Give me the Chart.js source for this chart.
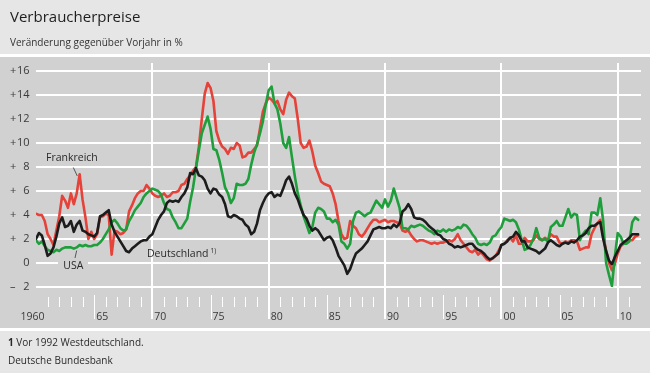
<!DOCTYPE html>
<html>
<head>
<meta charset="utf-8">
<script src="https://cdn.jsdelivr.net/npm/chart.js@4/dist/chart.umd.min.js"></script>
<style>
html,body{margin:0;padding:0;background:#e6e6e6;}
canvas{display:block;}
</style>
</head>
<body>
<canvas id="c" width="650" height="373" style="width:650px;height:373px"></canvas>
<script>
// Quarterly observations, first value = 1960 Q1
const startYear = 1960;
const quarterStep = 0.25;

// Deutschland (vor 1992 Westdeutschland), % gg. Vorjahr
const deutschland = [
 2.0,2.5,2.3,1.5,  0.6,0.8,1.3,2.2,  3.3,3.8,3.0,3.1,  3.5,2.6,3.2,3.5,  2.7,2.6,2.4,2.3,
 2.2,2.5,3.9,4.0,  4.2,4.4,3.2,2.6,  2.2,1.8,1.4,1.0,  0.9,1.2,1.4,1.6,  1.8,1.9,1.9,2.2,
 2.4,3.0,3.6,4.0,  4.3,5.0,5.2,5.1,  5.2,5.1,5.5,5.8,  6.3,7.5,7.4,7.9,  7.3,7.2,6.9,6.2,
 5.8,6.2,6.1,5.7,  5.5,4.9,3.9,3.8,  4.0,3.9,3.7,3.6,  3.2,3.0,2.4,2.6,  3.3,4.4,5.0,5.5,
 5.8,5.9,5.5,5.7,  5.6,6.2,6.9,7.2,  6.6,5.8,5.3,4.6,  4.0,3.7,3.1,2.7,  2.9,2.7,2.3,1.9,
 2.1,2.2,1.9,1.3,  0.6,0.2,-0.2,-0.9, -0.5,0.2,0.8,1.0, 1.2,1.5,1.8,2.3,  2.8,2.9,3.0,2.9,
 2.9,3.0,2.9,3.2,  3.0,3.3,4.3,4.5,  4.9,4.5,3.8,3.7,  3.7,3.6,3.4,3.1,  2.9,2.7,2.4,2.3,
 2.0,1.9,1.6,1.5,  1.3,1.4,1.3,1.4,  1.5,1.6,1.6,1.3,  1.1,1.0,0.8,0.5,  0.3,0.4,0.6,0.8,
 1.5,1.6,1.8,2.1,  2.2,2.6,2.3,1.8,  1.8,1.3,1.2,1.1,  1.0,0.8,1.0,1.2,  1.7,1.9,1.7,1.5,
 1.4,1.6,1.7,1.6,  1.8,1.7,1.9,2.2,  2.3,2.5,2.9,3.1,  3.1,3.3,3.4,2.0,  1.0,0.2,-0.1,0.5,
 1.0,1.5,1.7,1.9,  2.1,2.4,2.4,2.4
];

// USA
const usa = [
 1.9,1.6,1.8,1.4,  1.1,1.0,0.9,1.1,  1.0,1.2,1.3,1.3,  1.3,1.2,1.3,1.5,  1.4,1.5,1.4,1.4,
 1.5,1.5,1.7,2.0,  2.4,2.8,3.4,3.6,  3.3,2.9,2.7,2.8,  3.5,3.9,4.4,4.7,  5.0,5.5,5.8,6.0,
 6.2,6.1,6.0,5.7,  5.0,4.5,4.4,3.8,  3.4,2.9,2.9,3.3,  3.7,5.1,6.3,7.9,  9.4,10.8,11.5,12.2,
 11.2,9.5,9.4,8.6, 7.5,6.3,5.8,5.0,  5.4,6.6,6.5,6.5,  6.6,7.0,8.2,9.2,  9.9,10.8,11.8,13.2,
 14.4,14.7,13.3,12.8, 11.6,10.0,9.6,10.5, 8.8,7.2,5.8,4.8, 3.9,3.2,2.5,3.0, 4.2,4.6,4.5,4.3,
 3.7,3.7,3.4,3.6,  3.2,1.8,1.6,1.2,  1.6,3.5,4.2,4.3,  4.1,3.9,4.1,4.2,  4.7,5.2,4.9,4.6,
 5.3,4.7,5.2,6.2,  5.4,4.6,2.9,2.9,  2.8,3.1,3.0,3.1,  3.2,3.1,2.9,2.7,  2.6,2.4,2.7,2.6,
 2.8,2.6,2.8,2.7,  2.8,3.0,2.9,3.2,  3.1,2.8,2.4,2.1,  1.6,1.5,1.6,1.5,  1.7,2.2,2.3,2.7,
 3.0,3.7,3.6,3.5,  3.6,3.4,2.8,1.9,  1.1,1.2,1.5,2.0,  2.9,2.1,1.9,2.0,  1.8,3.0,3.2,3.5,
 3.1,3.1,3.8,4.5,  3.8,4.1,4.0,1.9,  2.4,2.7,2.4,4.2,  4.2,4.0,5.4,3.5,  0.0,-1.0,-1.9,0.5,
 2.5,2.2,1.6,1.6,  1.8,3.4,3.8,3.6
];

// Frankreich
const frankreich = [
 4.1,4.0,4.0,3.5,  2.4,2.0,1.5,2.7,  3.9,5.6,5.2,4.6,  5.8,4.9,5.8,7.4,  5.3,3.8,2.0,2.6,
 2.0,2.4,3.8,3.9,  4.1,4.0,0.7,2.7,  2.6,2.4,2.5,2.8,  4.3,4.8,5.4,5.8,  6.0,6.0,6.5,6.2,
 5.8,5.6,5.5,5.6,  5.8,5.5,5.6,5.9,  5.9,6.0,6.5,6.6,  7.0,7.3,7.7,8.0,  9.7,12.0,14.1,15.0,
 14.6,13.5,11.0,10.2, 9.7,9.5,9.1,9.6, 9.5,10.0,9.8,8.8, 8.9,9.2,9.2,9.5, 9.8,11.2,12.6,13.3,
 13.8,13.6,13.3,13.5, 12.8,12.4,13.6,14.2, 13.9,13.7,12.0,10.0, 9.6,9.7,10.2,9.3, 8.1,7.5,6.8,6.6,
 6.5,6.4,5.8,4.9,  3.5,2.4,2.0,2.1,  3.5,3.1,2.9,2.4,  2.2,2.5,2.9,3.3,  3.6,3.6,3.4,3.5,
 3.6,3.4,3.5,3.5,  3.4,3.3,2.7,2.6,  2.7,2.3,2.0,1.8,  1.9,1.9,1.8,1.7,  1.6,1.7,1.6,1.7,
 1.7,1.8,1.9,1.8,  2.0,2.4,1.9,1.6,  1.3,1.0,0.9,1.1,  0.7,0.9,0.6,0.3,  0.2,0.4,0.6,1.0,
 1.5,1.6,1.9,2.1,  1.8,2.3,1.6,1.6,  2.1,1.8,1.8,1.9,  2.3,2.0,1.9,2.1,  1.9,2.4,2.2,2.2,
 1.7,1.6,1.8,1.7,  1.9,1.9,1.8,1.1,  1.2,1.3,1.3,2.4,  2.9,3.3,3.6,2.3,  1.0,0.0,-0.6,-0.1,
 0.8,1.4,1.6,1.7,  1.9,1.9,2.2,2.3
];

const yTickValues = [16,14,12,10,8,6,4,2,0,-2];
const yTickLabels = ['+16','+14','+12','+10','+ 8','+ 6','+ 4','+ 2','0','\u2013 2'];
const xTickYears  = [1960,1965,1970,1975,1980,1985,1990,1995,2000,2005,2010];
const xTickLabels = ['1960','65','70','75','80','85','90','95','00','05','10'];

const FONT = "'Open Sans', 'Noto Sans', sans-serif";
const toPoints = arr => arr.map((v,i)=>({x: startYear + i*quarterStep, y: v}));

const chrome = {
  id: 'chrome',
  beforeDraw(chart){
    const ctx = chart.ctx, xs = chart.scales.x, ys = chart.scales.y;
    ctx.save();
    // bands
    ctx.fillStyle = '#e6e6e6'; ctx.fillRect(0,0,650,373);
    ctx.fillStyle = '#ffffff'; ctx.fillRect(0,54,650,3);
    ctx.fillStyle = '#d1d1d1'; ctx.fillRect(0,57,650,271);
    ctx.fillStyle = '#ffffff'; ctx.fillRect(0,328,650,3);

    // title / subtitle
    ctx.fillStyle = '#1e1e1e';
    ctx.font = '15px ' + FONT; ctx.textBaseline = 'alphabetic'; ctx.textAlign = 'left';
    ctx.fillText('Verbraucherpreise', 10, 22);
    ctx.fillStyle = '#333333';
    ctx.font = '10px ' + FONT;
    ctx.fillText('Ver\u00e4nderung gegen\u00fcber Vorjahr in %', 10, 45.5);

    // footer
    ctx.fillStyle = '#2a2a2a';
    ctx.font = 'bold 10px ' + FONT;
    ctx.fillText('1', 8, 346);
    const w1 = ctx.measureText('1').width;
    ctx.font = '10px ' + FONT;
    ctx.fillText(' Vor 1992 Westdeutschland.', 8 + w1, 346);
    ctx.fillText('Deutsche Bundesbank', 8, 363.5);

    // horizontal grid
    const L = xs.left, R = xs.right;
    ctx.strokeStyle = '#ffffff'; ctx.lineWidth = 2;
    yTickValues.forEach(v => {
      const y = Math.round(ys.getPixelForValue(v));
      ctx.beginPath();
      if (v === 0) { ctx.moveTo(L,y); ctx.lineTo(58,y); ctx.moveTo(88,y); ctx.lineTo(R,y); }
      else { ctx.moveTo(L,y); ctx.lineTo(R,y); }
      ctx.stroke();
    });

    // vertical decade lines and year ticks
    for (let yr = 1961; yr <= 2011; yr++) {
      const px = xs.getPixelForValue(yr);
      ctx.beginPath();
      if (yr % 10 === 0) {
        ctx.lineWidth = 2; const x = Math.round(px);
        ctx.moveTo(x, 63); ctx.lineTo(x, 319);
      } else if (yr % 5 === 0) {
        ctx.lineWidth = 1; const x = Math.round(px) + 0.5;
        ctx.moveTo(x, 295); ctx.lineTo(x, 319);
      } else {
        ctx.lineWidth = 1; const x = Math.round(px) + 0.5;
        ctx.moveTo(x, 297); ctx.lineTo(x, 307);
      }
      ctx.stroke();
    }

    // y tick labels
    ctx.fillStyle = '#3a3a3a';
    ctx.font = '11px ' + FONT; ctx.textBaseline = 'middle';
    yTickValues.forEach((v,i) => {
      const y = ys.getPixelForValue(v);
      const lab = yTickLabels[i];
      const sign = lab.charAt(0);
      if (sign === '+' || sign === '\u2013') {
        ctx.textAlign = 'left'; ctx.fillText(sign, 10, y);
        ctx.textAlign = 'right'; ctx.fillText(lab.slice(1).trim(), 29.5, y);
      } else {
        ctx.textAlign = 'right'; ctx.fillText(lab, 29.5, y);
      }
    });

    // x tick labels
    ctx.font = '10.5px ' + FONT; ctx.textBaseline = 'alphabetic'; ctx.textAlign = 'left';
    xTickYears.forEach((yr,i) => {
      const px = xs.getPixelForValue(yr);
      const x = (i === 0) ? 20.5 : px + 2;
      ctx.fillText(xTickLabels[i], x, 319.5);
    });
    ctx.restore();
  },
  afterDatasetsDraw(chart){
    const ctx = chart.ctx;
    ctx.save();
    ctx.fillStyle = '#2a2a2a';
    ctx.font = '10.5px ' + FONT; ctx.textBaseline = 'alphabetic'; ctx.textAlign = 'left';
    ctx.fillText('Frankreich', 46, 160.7);
    ctx.fillText('USA', 63.3, 269.3);
    ctx.fillText('Deutschland', 147, 257.3);
    const wD = ctx.measureText('Deutschland').width;
    ctx.font = '6.5px ' + FONT;
    ctx.fillText('1)', 147 + wD + 2, 252.5);
    ctx.strokeStyle = '#555555'; ctx.lineWidth = 1;
    ctx.beginPath(); ctx.moveTo(73.3,167.5); ctx.lineTo(77.3,176); ctx.stroke();
    ctx.beginPath(); ctx.moveTo(75,258); ctx.lineTo(76.7,250.5); ctx.stroke();
    ctx.restore();
  }
};

const lineStyle = (color) => ({
  borderColor: color, backgroundColor: color, borderWidth: 2.6,
  pointRadius: 0, tension: 0, fill: false, borderJoinStyle: 'round', borderCapStyle: 'round'
});

new Chart(document.getElementById('c'), {
  type: 'line',
  data: {
    datasets: [
      Object.assign({label: 'Deutschland', data: toPoints(deutschland)}, lineStyle('#1c1c1c')),
      Object.assign({label: 'USA', data: toPoints(usa)}, lineStyle('#1f9e3c')),
      Object.assign({label: 'Frankreich', data: toPoints(frankreich)}, lineStyle('#e5423a'))
    ]
  },
  options: {
    responsive: false,
    animation: false,
    devicePixelRatio: 1,
    layout: { padding: { left: 36, right: 9, top: 71, bottom: 86 } },
    scales: {
      x: { type: 'linear', min: 1960, max: 2012, display: false },
      y: { type: 'linear', min: -2, max: 16, display: false }
    },
    plugins: { legend: { display: false }, tooltip: { enabled: false } }
  },
  plugins: [chrome]
});
</script>
</body>
</html>
